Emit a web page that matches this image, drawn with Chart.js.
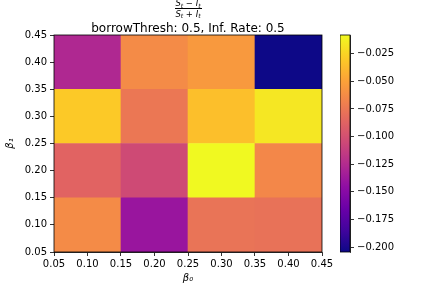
<!DOCTYPE html>
<html><head><meta charset="utf-8">
<script src="https://cdn.jsdelivr.net/npm/chart.js@4/dist/chart.umd.min.js"></script>
<style>
html,body{margin:0;padding:0;background:#fff;}
#wrap{position:relative;width:432px;height:288px;overflow:hidden;font-family:"DejaVu Sans";color:#000;}
canvas{position:absolute;top:0;}
#main{left:0;}
#cb{left:340px;}
.t{position:absolute;white-space:nowrap;}
.f{font-size:8.5px;line-height:10px;text-align:center;width:60px;left:158px;}
.s{font-size:6px;font-style:italic;position:relative;top:1.5px;}
</style></head><body>
<div id="wrap">
<canvas id="main" width="432" height="288"></canvas>
<canvas id="cb" width="92" height="288"></canvas>
<div class="t f" style="top:-2px;"><i>S</i><span class="s">t</span> − <i>I</i><span class="s">t</span></div>
<div class="t" style="left:175px;top:8px;width:27px;height:0;border-top:0.8px solid #000;"></div>
<div class="t f" style="top:8.5px;"><i>S</i><span class="s">t</span> + <i>I</i><span class="s">t</span></div>
<div class="t" style="left:0;width:376px;text-align:center;top:21px;font-size:12px;line-height:14px;">borrowThresh: 0.5, Inf. Rate: 0.5</div>
</div>
<script>
// beta0 (x) categories and beta1 (y) rows
const beta0 = [0.1, 0.2, 0.3, 0.4];
const beta1 = [0.1, 0.2, 0.3, 0.4];
// values per beta1 row, across beta0
const row_b1_01 = [-0.063, -0.140, -0.077, -0.078];
const row_b1_02 = [-0.087, -0.104, -0.008, -0.065];
const row_b1_03 = [-0.030, -0.075, -0.035, -0.016];
const row_b1_04 = [-0.127, -0.063, -0.055, -0.2045];
const rows = [row_b1_01, row_b1_02, row_b1_03, row_b1_04];
const axisTicks = [0.05, 0.10, 0.15, 0.20, 0.25, 0.30, 0.35, 0.40, 0.45];
const cbTicks = [-0.025, -0.050, -0.075, -0.100, -0.125, -0.150, -0.175, -0.200];

const plasmaStops = ['#0d0887','#41049d','#6a00a8','#8f0da4','#b12a90','#cc4778','#e16462','#f2844b','#fca636','#fcce25','#f0f921'];
function hex(h){return [parseInt(h.slice(1,3),16),parseInt(h.slice(3,5),16),parseInt(h.slice(5,7),16)];}
function plasma(t){
  t=Math.max(0,Math.min(1,t));
  const p=t*(plasmaStops.length-1); const i=Math.min(Math.floor(p),plasmaStops.length-2); const f=p-i;
  const a=hex(plasmaStops[i]), b=hex(plasmaStops[i+1]);
  return 'rgb('+a.map((v,k)=>Math.round(v+(b[k]-v)*f)).join(',')+')';
}
const all = rows.flat();
const vmin = Math.min(...all), vmax = Math.max(...all);
const norm = v => (v - vmin) / (vmax - vmin);
const half = (beta1[1]-beta1[0])/2;

const FONT = {family:'DejaVu Sans', size:10};
const frame = {id:'frame', afterDraw(c){const a=c.chartArea,x=c.ctx;x.save();x.strokeStyle='#000';x.lineWidth=0.8;x.strokeRect(a.left,a.top,a.right-a.left,a.bottom-a.top);x.restore();}};
const setTicks = vals => s => { s.ticks = vals.map(v=>({value:v})); };

new Chart(document.getElementById('main'), {
  type:'bar',
  data:{
    labels: beta0.map(String),
    datasets: rows.map((r,ri)=>({
      data: r.map(()=>[beta1[ri]-half, beta1[ri]+half]),
      backgroundColor: r.map(v=>plasma(norm(v))),
      borderWidth:0, grouped:false, barPercentage:1, categoryPercentage:1
    }))
  },
  options:{
    responsive:false, animation:false, devicePixelRatio:1,
    layout:{padding:{top:35,right:110,bottom:0,left:0}},
    plugins:{legend:{display:false},tooltip:{enabled:false}},
    scales:{
      x:{type:'category', display:false, offset:true},
      xt:{type:'linear', position:'bottom', min:0.05, max:0.45, offset:false,
        afterBuildTicks:setTicks(axisTicks),
        afterFit:s=>{s.height=36;},
        ticks:{font:FONT,color:'#000',maxRotation:0,autoSkip:false,padding:2,callback:v=>v.toFixed(2)},
        grid:{drawOnChartArea:false,offset:false,color:'#000',tickLength:4,lineWidth:0.8},
        border:{color:'#000',width:0.8},
        title:{display:true,text:'β₀',font:{family:'DejaVu Sans',size:10,style:'italic'},color:'#000',padding:{top:2,bottom:4}}},
      y:{type:'linear', position:'left', min:0.05, max:0.45,
        afterBuildTicks:setTicks(axisTicks),
        afterFit:s=>{s.width=54;},
        ticks:{font:FONT,color:'#000',autoSkip:false,padding:3,callback:v=>v.toFixed(2)},
        grid:{drawOnChartArea:false,color:'#000',tickLength:4,lineWidth:0.8},
        border:{color:'#000',width:0.8},
        title:{display:true,text:'β₁',font:{family:'DejaVu Sans',size:10,style:'italic'},color:'#000',padding:{top:4,bottom:2}}}
    }
  },
  plugins:[frame]
});

new Chart(document.getElementById('cb'), {
  type:'bar',
  data:{labels:['cb'], datasets:[{
    data:[[vmin, vmax]],
    backgroundColor:(ctx)=>{const a=ctx.chart.chartArea; if(!a) return '#888';
      const g=ctx.chart.ctx.createLinearGradient(0,a.bottom,0,a.top);
      plasmaStops.forEach((c,i)=>g.addColorStop(i/(plasmaStops.length-1),c)); return g;},
    borderWidth:0, barPercentage:1, categoryPercentage:1
  }]},
  options:{
    responsive:false, animation:false, devicePixelRatio:1,
    layout:{padding:{top:35,right:0,bottom:36,left:0}},
    plugins:{legend:{display:false},tooltip:{enabled:false}},
    scales:{
      x:{display:false, offset:true},
      y:{type:'linear', position:'right', min:vmin, max:vmax,
        afterBuildTicks:setTicks(cbTicks),
        afterFit:s=>{s.width=82;},
        ticks:{font:FONT,color:'#000',autoSkip:false,padding:3,callback:v=>(v<0?'−':'')+Math.abs(v).toFixed(3)},
        grid:{drawOnChartArea:false,color:'#000',tickLength:4,lineWidth:0.8},
        border:{color:'#000',width:0.8}}
    }
  },
  plugins:[frame]
});
</script>
</body></html>
